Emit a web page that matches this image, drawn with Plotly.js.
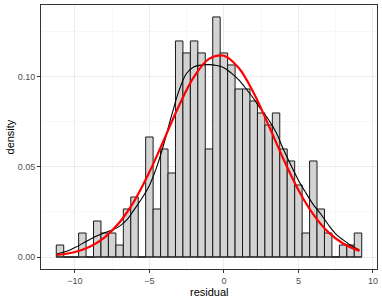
<!DOCTYPE html>
<html>
<head>
<meta charset="utf-8">
<script src="https://cdn.plot.ly/plotly-3.0.1.min.js"></script>
<style>html,body{margin:0;padding:0;background:#fff;}#chart{width:382px;height:301px;}</style>
</head>
<body>
<div id="chart"></div>
<script>
// Histogram bins (binwidth 0.5) and counts
const binCenters = [-11, -10.5, -10, -9.5, -9, -8.5, -8, -7.5, -7, -6.5, -6, -5.5, -5, -4.5, -4, -3.5, -3, -2.5, -2, -1.5, -1, -0.5, 0, 0.5, 1, 1.5, 2, 2.5, 3, 3.5, 4, 4.5, 5, 5.5, 6, 6.5, 7, 7.5, 8, 8.5, 9];
const binCounts = [1, 0, 0, 2, 0, 3, 2, 2, 1, 4, 5, 0, 10, 4, 9, 7, 18, 17, 18, 17, 9, 20, 17, 16, 14, 14, 13, 12, 11, 12, 9, 8, 6, 2, 8, 4, 2, 0, 1, 1, 2];
const binWidth = 0.5;

// Kernel density curve (black)
const kdeX = [-11.19, -10.5, -10.0, -9.5, -9.0, -8.5, -8.0, -7.5, -7.0, -6.5, -6.0, -5.5, -5.0, -4.5, -4.0, -3.5, -3.0, -2.5, -2.0, -1.5, -1.0, -0.5, 0.0, 0.5, 1.0, 1.5, 2.0, 2.5, 3.0, 3.5, 4.0, 4.5, 5.0, 5.5, 6.0, 6.5, 7.0, 7.5, 8.0, 8.5, 9.09];
const kdeY = [0.0018, 0.0033, 0.0052, 0.0074, 0.0097, 0.0118, 0.0134, 0.0149, 0.0171, 0.0207, 0.0265, 0.0325, 0.0396, 0.0500, 0.0635, 0.0787, 0.0924, 0.1017, 0.1053, 0.1063, 0.1065, 0.1060, 0.1048, 0.1018, 0.0980, 0.0930, 0.0876, 0.0815, 0.0760, 0.0690, 0.0595, 0.0508, 0.0425, 0.0355, 0.0290, 0.0238, 0.0180, 0.0128, 0.0095, 0.0065, 0.0040];

// Normal curve (red)
const normX = [-11.2, -10, -9, -8, -7, -6, -5, -4, -3, -2, -1, 0, 1, 2, 3, 4, 5, 6, 7, 8, 9.1];
const normY = [0.0011, 0.0028, 0.0057, 0.0109, 0.0192, 0.0312, 0.0470, 0.0653, 0.0840, 0.0998, 0.1097, 0.1114, 0.1046, 0.0908, 0.0729, 0.0541, 0.0371, 0.0236, 0.0138, 0.0075, 0.0034];

const xTicks = [-10, -5, 0, 5, 10];
const yTicks = [0, 0.05, 0.10];
const xLabel = 'residual';
const yLabel = 'density';

const total = binCounts.reduce((a, b) => a + b, 0);
const density = binCounts.map(c => c / (total * binWidth));
const x0 = binCenters[0] - binWidth / 2;
const x1 = binCenters[binCenters.length - 1] + binWidth / 2;

const FONT = 'Liberation Sans, Arial, Helvetica, sans-serif';

const traces = [
  {
    type: 'bar', x: binCenters, y: density, width: binWidth,
    marker: {color: '#D3D3D3', line: {color: '#1a1a1a', width: 1}},
    showlegend: false, hoverinfo: 'skip'
  },
  {
    type: 'scatter', mode: 'lines', x: [x0, x1], y: [0, 0],
    line: {color: '#1a1a1a', width: 1}, showlegend: false, hoverinfo: 'skip'
  },
  {
    type: 'scatter', mode: 'lines', x: kdeX, y: kdeY,
    line: {color: '#000000', width: 1.1, shape: 'spline', smoothing: 1},
    showlegend: false, hoverinfo: 'skip'
  },
  {
    type: 'scatter', mode: 'lines', x: normX, y: normY,
    line: {color: '#FF0000', width: 2.2, shape: 'spline', smoothing: 1},
    showlegend: false, hoverinfo: 'skip'
  }
];

const axisCommon = {
  showline: true, mirror: true, linecolor: '#333333', linewidth: 1,
  ticks: 'outside', ticklen: 3, tickwidth: 1, tickcolor: '#333333',
  tickfont: {family: FONT, size: 9, color: '#4D4D4D'},
  showgrid: true, gridcolor: '#EBEBEB', gridwidth: 1,
  zeroline: false, automargin: false
};

const layout = {
  width: 382, height: 301,
  margin: {l: 41, r: 5, t: 5, b: 32},
  paper_bgcolor: '#ffffff', plot_bgcolor: '#ffffff',
  font: {family: FONT},
  bargap: 0,
  xaxis: Object.assign({}, axisCommon, {
    range: [-12.275, 10.275],
    tickmode: 'array', tickvals: xTicks,
    ticktext: xTicks.map(v => v < 0 ? '\u2212' + Math.abs(v) : String(v)),
    minor: {tickmode: 'array', tickvals: [-12.5, -7.5, -2.5, 2.5, 7.5], showgrid: true, gridcolor: '#F2F2F2', gridwidth: 0.6, ticks: ''}
  }),
  yaxis: Object.assign({}, axisCommon, {
    range: [-0.00664, 0.1395],
    tickmode: 'array', tickvals: yTicks,
    ticktext: yTicks.map(v => v.toFixed(2)),
    minor: {tickmode: 'array', tickvals: [0.025, 0.075, 0.125], showgrid: true, gridcolor: '#F2F2F2', gridwidth: 0.6, ticks: ''}
  }),
  annotations: [
    {text: xLabel, xref: 'paper', yref: 'paper', x: 0.5, y: -0.0858, xanchor: 'center', yanchor: 'middle',
     borderpad: 0, showarrow: false, font: {family: FONT, size: 11, color: '#000000'}},
    {text: yLabel, xref: 'paper', yref: 'paper', x: -0.0908, y: 0.5, xanchor: 'center', yanchor: 'middle',
     borderpad: 0, textangle: -90, showarrow: false, font: {family: FONT, size: 11, color: '#000000'}}
  ]
};

Plotly.newPlot('chart', traces, layout, {staticPlot: true, displayModeBar: false});
</script>
</body>
</html>
